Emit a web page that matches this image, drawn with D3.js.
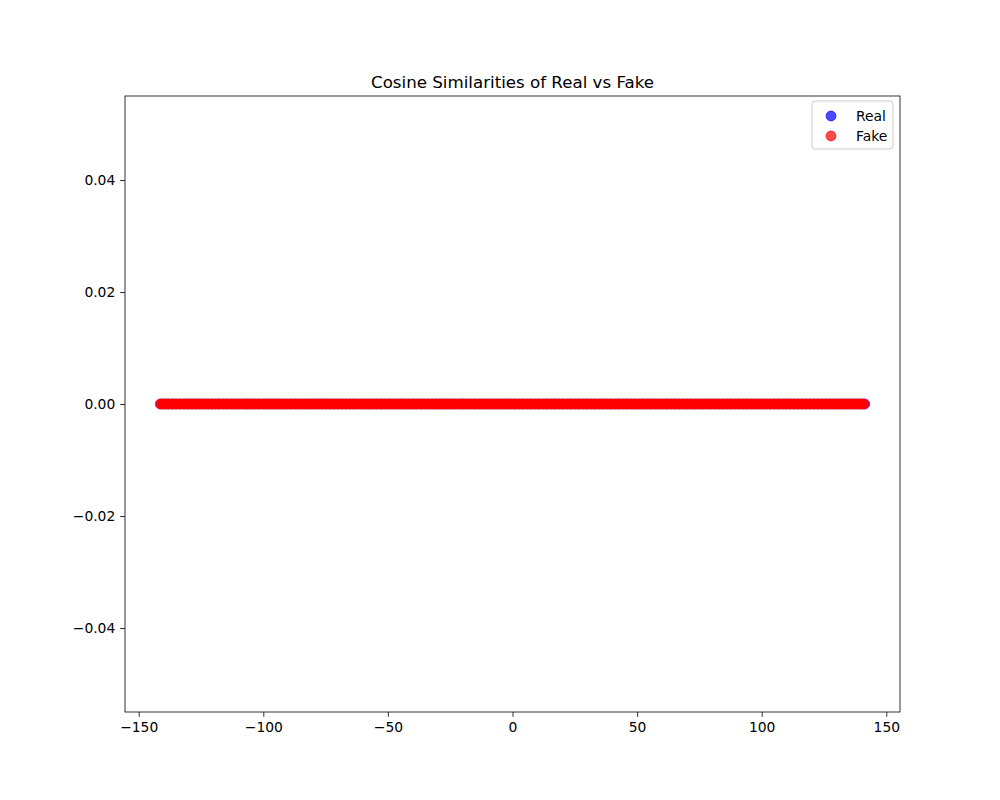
<!DOCTYPE html>
<html><head><meta charset="utf-8">
<script src="https://cdn.jsdelivr.net/npm/d3@7"></script>
<style>body{margin:0;background:#fff}svg{display:block;font-family:"DejaVu Sans",sans-serif}</style>
</head><body>
<script>
const title = "Cosine Similarities of Real vs Fake";
const seriesNames = ["Real", "Fake"];
const seriesColors = ["#0000ff", "#ff0000"];
const xTicks = [-150, -100, -50, 0, 50, 100, 150];
const yTicks = [-0.04, -0.02, 0.00, 0.02, 0.04];
const xDomain = [-155.5, 155.5];
const yDomain = [-0.055, 0.055];
const yValue = 0;
const realX = [-141.0,-139.6,-138.1,-136.4,-135.0,-133.3,-131.7,-130.2,-128.6,-127.0,-125.5,-123.8,-122.3,-120.7,-119.1,-117.6,-115.9,-114.4,-112.8,-111.2,-109.7,-108.0,-106.5,-104.9,-103.3,-101.8,-100.1,-98.6,-97.0,-95.4,-93.9,-92.2,-90.7,-89.1,-87.5,-86.0,-84.3,-82.8,-81.2,-79.6,-78.1,-76.4,-74.9,-73.3,-71.7,-70.2,-68.5,-67.0,-65.4,-63.8,-62.3,-60.6,-59.1,-57.5,-55.9,-54.4,-52.7,-51.2,-49.6,-48.0,-46.5,-44.8,-43.3,-41.7,-40.1,-38.6,-36.9,-35.4,-33.8,-32.2,-30.7,-29.0,-27.5,-25.9,-24.3,-22.8,-21.1,-19.6,-18.0,-16.4,-14.9,-13.2,-11.7,-10.1,-8.5,-7.0,-5.3,-3.8,-2.2,-0.6,1.1,2.7,4.3,5.9,7.5,9.1,10.7,12.3,13.9,15.5,17.1,18.7,20.3,21.9,23.5,25.1,26.7,28.3,29.9,31.5,33.1,34.7,36.3,37.9,39.5,41.1,42.7,44.3,45.9,47.5,49.1,50.7,52.3,53.9,55.5,57.1,58.7,60.3,61.9,63.5,65.1,66.7,68.3,69.9,71.5,73.1,74.7,76.3,77.9,79.5,81.1,82.7,84.3,85.9,87.5,89.1,90.7,92.3,93.9,95.5,97.1,98.7,100.3,101.9,103.5,105.1,106.7,108.3,109.9,111.5,113.1,114.7,116.3,117.9,119.5,121.1,122.7,124.3,125.9,127.5,129.1,130.7,132.3,133.9,135.5,137.1,138.7,140.2,141.3];
const fakeX = [-141.4,-140.7,-139.9,-139.2,-138.3,-137.6,-136.8,-136.1,-135.2,-134.5,-133.7,-132.9,-132.1,-131.4,-130.6,-129.8,-129.0,-128.3,-127.5,-126.7,-125.9,-125.2,-124.4,-123.6,-122.8,-122.1,-121.3,-120.5,-119.7,-119.0,-118.2,-117.4,-116.6,-115.9,-115.1,-114.3,-113.5,-112.8,-112.0,-111.2,-110.4,-109.7,-108.9,-108.1,-107.3,-106.6,-105.8,-105.0,-104.2,-103.5,-102.7,-101.9,-101.1,-100.4,-99.6,-98.8,-98.0,-97.3,-96.5,-95.7,-94.9,-94.2,-93.4,-92.6,-91.8,-91.1,-90.3,-89.5,-88.7,-88.0,-87.2,-86.4,-85.6,-84.9,-84.1,-83.3,-82.5,-81.8,-81.0,-80.2,-79.4,-78.7,-77.9,-77.1,-76.3,-75.6,-74.8,-74.0,-73.2,-72.5,-71.7,-70.9,-70.1,-69.4,-68.6,-67.8,-67.0,-66.3,-65.5,-64.7,-63.9,-63.2,-62.4,-61.6,-60.8,-60.1,-59.3,-58.5,-57.7,-57.0,-56.2,-55.4,-54.6,-53.9,-53.1,-52.3,-51.5,-50.8,-50.0,-49.2,-48.4,-47.7,-46.9,-46.1,-45.3,-44.6,-43.8,-43.0,-42.2,-41.5,-40.7,-39.9,-39.1,-38.4,-37.6,-36.8,-36.0,-35.3,-34.5,-33.7,-32.9,-32.2,-31.4,-30.6,-29.8,-29.1,-28.3,-27.5,-26.7,-26.0,-25.2,-24.4,-23.6,-22.9,-22.1,-21.3,-20.5,-19.8,-19.0,-18.2,-17.4,-16.7,-15.9,-15.1,-14.3,-13.6,-12.8,-12.0,-11.2,-10.5,-9.7,-8.9,-8.1,-7.4,-6.6,-5.8,-5.0,-4.3,-3.5,-2.7,-1.9,-1.2,-0.4,0.4,1.2,1.9,2.7,3.5,4.3,5.0,5.8,6.6,7.4,8.1,8.9,9.7,10.5,11.2,12.0,12.8,13.6,14.3,15.1,15.9,16.7,17.4,18.2,19.0,19.8,20.5,21.3,22.1,22.9,23.6,24.4,25.2,26.0,26.7,27.5,28.3,29.1,29.8,30.6,31.4,32.2,32.9,33.7,34.5,35.3,36.0,36.8,37.6,38.4,39.1,39.9,40.7,41.5,42.2,43.0,43.8,44.6,45.3,46.1,46.9,47.7,48.4,49.2,50.0,50.8,51.5,52.3,53.1,53.9,54.6,55.4,56.2,57.0,57.7,58.5,59.3,60.1,60.8,61.6,62.4,63.2,63.9,64.7,65.5,66.3,67.0,67.8,68.6,69.4,70.1,70.9,71.7,72.5,73.2,74.0,74.8,75.6,76.3,77.1,77.9,78.7,79.4,80.2,81.0,81.8,82.5,83.3,84.1,84.9,85.6,86.4,87.2,88.0,88.7,89.5,90.3,91.1,91.8,92.6,93.4,94.2,94.9,95.7,96.5,97.3,98.0,98.8,99.6,100.4,101.1,101.9,102.7,103.5,104.2,105.0,105.8,106.6,107.3,108.1,108.9,109.7,110.4,111.2,112.0,112.8,113.5,114.3,115.1,115.9,116.6,117.4,118.2,119.0,119.7,120.5,121.3,122.1,122.8,123.6,124.4,125.2,125.9,126.7,127.5,128.3,129.0,129.8,130.6,131.4,132.1,132.9,133.7,134.5,135.2,136.0,136.8,137.6,138.3,139.1,139.9,140.6,141.2];

const W = 1000, H = 800;
const m = {left: 125, right: 100, top: 96, bottom: 88};
const svg = d3.select("body").append("svg").attr("width", W).attr("height", H);
const x = d3.scaleLinear().domain(xDomain).range([m.left, W - m.right]);
const y = d3.scaleLinear().domain(yDomain).range([H - m.bottom, m.top]);
const fmtMinus = s => s.replace("-", "\u2212");
const tickFont = "13.89px", titleFont = "16.67px";

const r = 4.91;
[realX, fakeX].forEach((xs, i) => {
  svg.append("g").selectAll("circle").data(xs).join("circle")
    .attr("cx", d => x(d)).attr("cy", y(yValue)).attr("r", r)
    .attr("fill", seriesColors[i]).attr("fill-opacity", 0.7)
    .attr("stroke", seriesColors[i]).attr("stroke-opacity", 0.7).attr("stroke-width", 1);
});

const xAxis = svg.append("g").attr("transform", `translate(0,${H - m.bottom})`)
  .call(d3.axisBottom(x).tickValues(xTicks).tickSize(4.86).tickPadding(4.86).tickFormat(d => fmtMinus(d3.format("d")(d))));
const yAxis = svg.append("g").attr("transform", `translate(${m.left},0)`)
  .call(d3.axisLeft(y).tickValues(yTicks).tickSize(4.86).tickPadding(4.86).tickFormat(d => fmtMinus(d3.format(".2f")(d))));
[xAxis, yAxis].forEach(a => {
  a.select(".domain").remove();
  a.selectAll("line").attr("stroke", "#000").attr("stroke-width", 0.8);
  a.selectAll("text").attr("font-size", tickFont).attr("fill", "#000").attr("font-family", "DejaVu Sans");
});

svg.append("rect").attr("x", m.left).attr("y", m.top)
  .attr("width", W - m.left - m.right).attr("height", H - m.top - m.bottom)
  .attr("fill", "none").attr("stroke", "#000").attr("stroke-width", 0.8);

svg.append("text").attr("x", (m.left + W - m.right) / 2).attr("y", 88)
  .attr("text-anchor", "middle").attr("font-size", titleFont).text(title);

const lg = svg.append("g");
lg.append("rect").attr("x", 812).attr("y", 101).attr("width", 81).attr("height", 48).attr("rx", 3)
  .attr("fill", "#fff").attr("fill-opacity", 0.8).attr("stroke", "#cccccc").attr("stroke-width", 1);
seriesNames.forEach((n, i) => {
  const cy = 116 + i * 20;
  lg.append("circle").attr("cx", 831).attr("cy", cy).attr("r", r)
    .attr("fill", seriesColors[i]).attr("fill-opacity", 0.7)
    .attr("stroke", seriesColors[i]).attr("stroke-opacity", 0.7);
  lg.append("text").attr("x", 856).attr("y", cy + 4.9).attr("font-size", tickFont).text(n);
});
</script>
</body></html>
